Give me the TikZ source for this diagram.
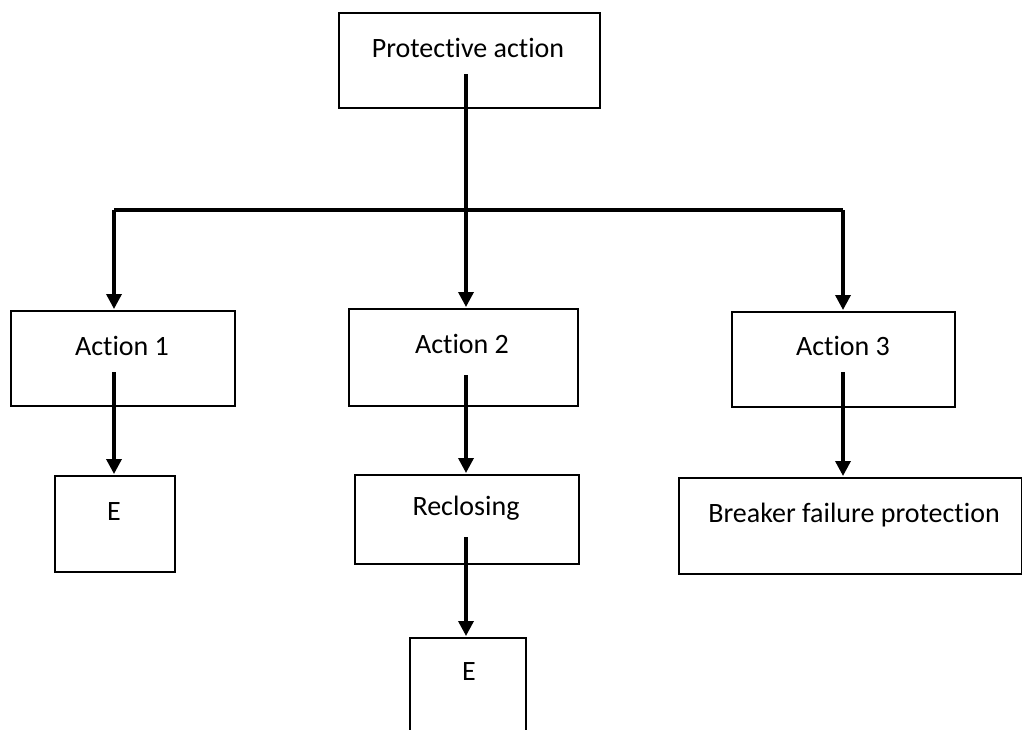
\documentclass[tikz,border=0pt]{standalone}
\usepackage{fontspec}
\setmainfont[Ligatures={NoCommon}]{Carlito}
\usetikzlibrary{arrows.meta}
\begin{document}
\begin{tikzpicture}[x=1pt,y=-1pt,
  box/.style={draw,line width=1.5pt,rectangle,inner sep=0pt,anchor=north west},
  txt/.style={anchor=base,font=\fontsize{28}{32}\selectfont},
  conn/.style={line width=3.4pt},
  arr/.style={line width=3.4pt,-{Triangle[length=15pt,width=15pt]},shorten >=1pt}]
\useasboundingbox (0,0) rectangle (1022,729);
\clip (0,0) rectangle (1022,729);
% boxes
\node[box,minimum width=261pt,minimum height=95pt] (pa) at (338,12) {};
\node[box,minimum width=224pt,minimum height=95pt] (a1) at (10,310) {};
\node[box,minimum width=229pt,minimum height=97pt] (a2) at (348,308) {};
\node[box,minimum width=223pt,minimum height=95pt] (a3) at (731,311) {};
\node[box,minimum width=120pt,minimum height=96pt] (e1) at (54,475) {};
\node[box,minimum width=224pt,minimum height=89pt] (rc) at (354,474) {};
\node[box,minimum width=343pt,minimum height=96pt] (bf) at (678,477) {};
\node[box,minimum width=116pt,minimum height=123pt] (e2) at (409,637) {};
% texts
\node[txt] (tpa) at (468,57) {Protective action};
\node[txt] (ta1) at (122,355) {Action 1};
\node[txt] (ta2) at (462,353) {Action 2};
\node[txt] (ta3) at (843,355) {Action 3};
\node[txt] (te1) at (114,520) {E};
\node[txt] (trc) at (466,515) {Reclosing};
\node[txt] (tbf) at (854,522) {Breaker failure protection};
\node[txt] (te2) at (469,680) {E};
% connector points
\coordinate (pas) at (466,74);
\coordinate (busL) at (114,210);
\coordinate (busR) at (843,210);
\coordinate (a1s) at (114,372);
\coordinate (a2s) at (466,375);
\coordinate (a3s) at (843,372);
\coordinate (rcs) at (466,537);
% connectors
\draw[conn] (busL) -- (busR);
\draw[arr] (pas) -- (pas |- a2.north);
\draw[arr] (busL) -- (busL |- a1.north);
\draw[arr] (busR) -- (busR |- a3.north);
\draw[arr] (a1s) -- (a1s |- e1.north);
\draw[arr] (a2s) -- (a2s |- rc.north);
\draw[arr] (a3s) -- (a3s |- bf.north);
\draw[arr] (rcs) -- (rcs |- e2.north);
\end{tikzpicture}
\end{document}
